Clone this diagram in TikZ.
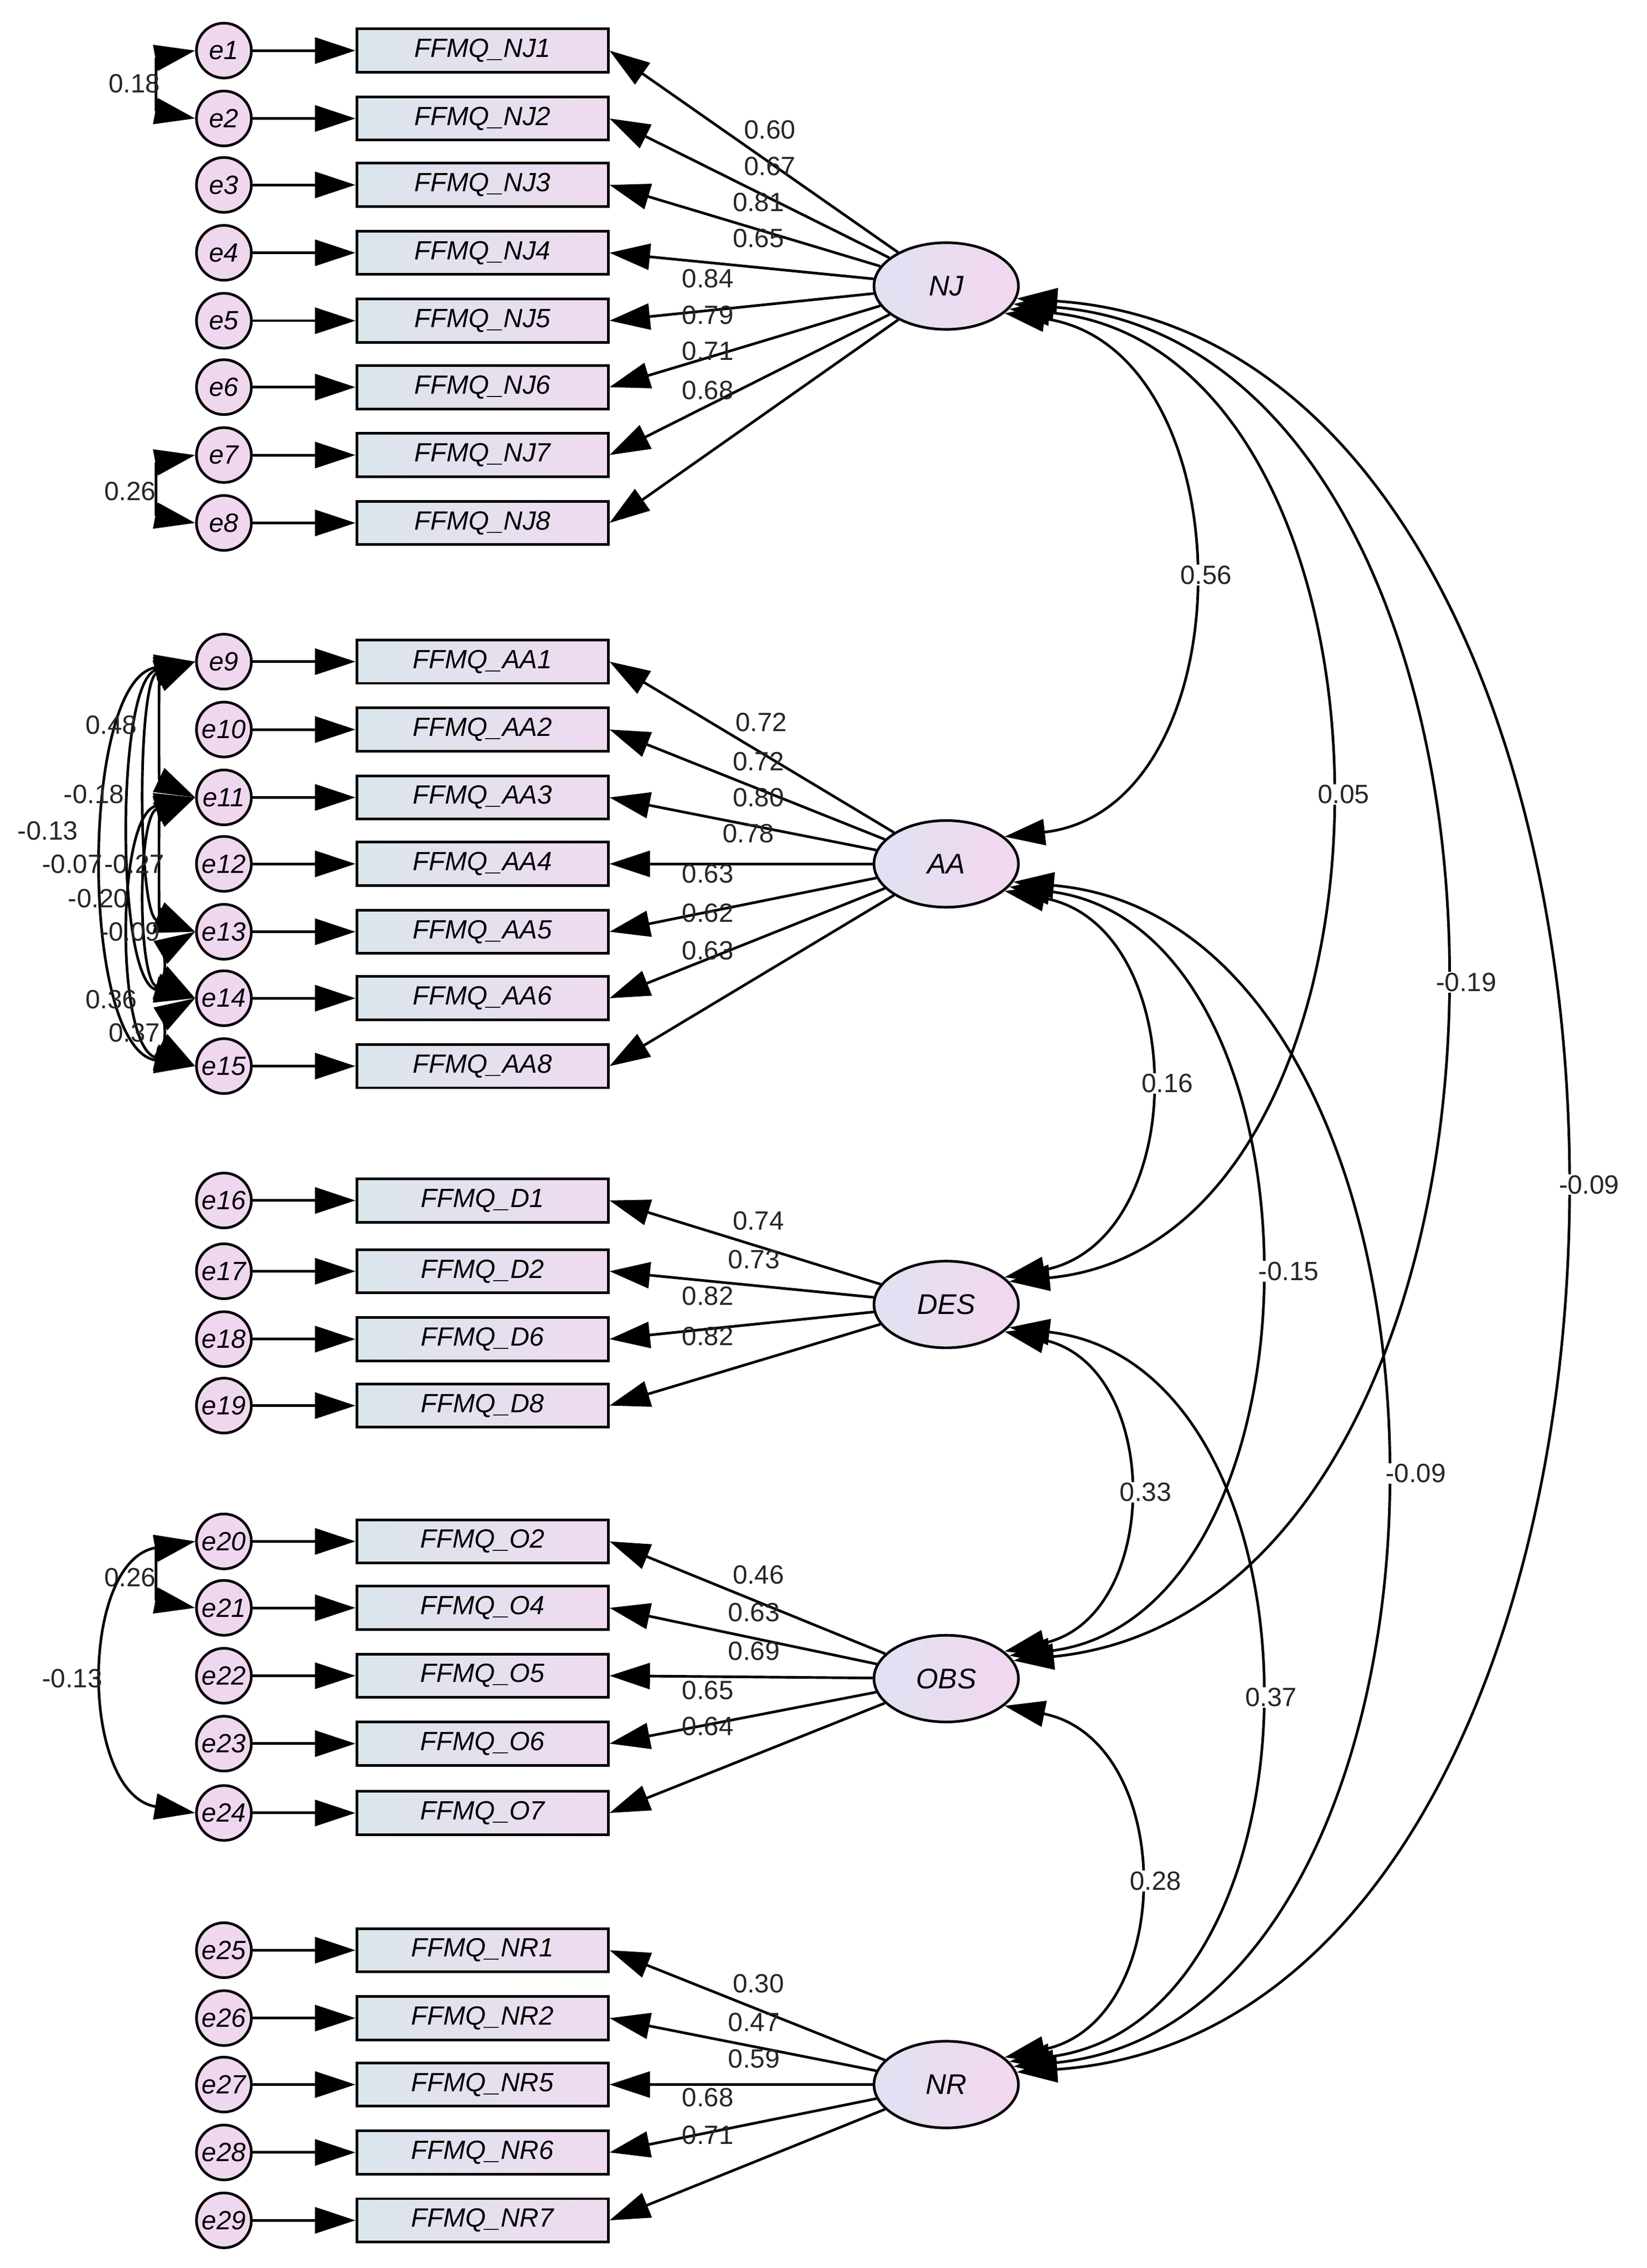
\documentclass[tikz,border=0pt]{standalone}
\usepackage{fontspec}
\setmainfont{Liberation Sans}
\usetikzlibrary{arrows.meta,shapes.geometric}
\begin{document}
\begin{tikzpicture}[x=0.05cm,y=-0.05cm,
  every node/.style={font=\fontsize{26}{30}\selectfont},
  err/.style={circle,draw,line width=2.6pt,minimum size=1.9cm,inner sep=0pt,fill=errc,font=\fontsize{26}{30}\selectfont\itshape},
  obs/.style={rectangle,draw,line width=2.6pt,minimum width=8.7cm,minimum height=1.5cm,inner sep=0pt,left color=boxl,right color=boxr,font=\fontsize{26}{30}\selectfont\itshape},
  lat/.style={ellipse,draw,line width=2.6pt,minimum width=5cm,minimum height=3cm,inner sep=0pt,left color=latl,right color=latr,font=\fontsize{28}{32}\selectfont\itshape},
  arr/.style={line width=2.6pt,-{Triangle[length=1.4cm,width=0.9cm]}},
  dbl/.style={line width=2.6pt,{Triangle[length=1.4cm,width=0.9cm]}-{Triangle[length=1.4cm,width=0.9cm]}},
  lb/.style={inner sep=1pt,text=black!85}]
\definecolor{errc}{RGB}{240,215,240}
\definecolor{boxl}{RGB}{218,230,236}
\definecolor{boxr}{RGB}{240,218,240}
\definecolor{latl}{RGB}{225,225,242}
\definecolor{latr}{RGB}{242,215,240}
\useasboundingbox (0,0) rectangle (1140,1570);
% rows
\foreach \i/\y/\t in {1/35/NJ1,2/82/NJ2,3/128/NJ3,4/175/NJ4,5/222/NJ5,6/268/NJ6,7/315/NJ7,8/362/NJ8,
 9/458/AA1,10/505/AA2,11/552/AA3,12/598/AA4,13/645/AA5,14/691/AA6,15/738/AA8,
 16/831/D1,17/880/D2,18/927/D6,19/973/D8,
 20/1067/O2,21/1113/O4,22/1160/O5,23/1207/O6,24/1255/O7,
 25/1350/NR1,26/1397/NR2,27/1443/NR5,28/1490/NR6,29/1537/NR7}{
 \node[err] (e\i) at (155,\y) {e\i};
 \node[obs] (b\i) at (334,\y) {FFMQ\_\t};
 \draw[arr] (e\i) -- (b\i);
}
\node[lat] (NJ) at (655,198) {NJ};
\node[lat] (AA) at (655,598) {AA};
\node[lat] (DES) at (655,903) {DES};
\node[lat] (OBS) at (655,1162) {OBS};
\node[lat] (NR) at (655,1443) {NR};
% loadings
\foreach \i/\x/\y/\v in {1/533/90/0.60,2/533/115/0.67,3/525/140/0.81,4/525/165/0.65,5/490/193/0.84,6/490/218/0.79,7/490/243/0.71,8/490/270/0.68}{
 \draw[arr] (NJ) -- (b\i.east); \node[lb] at (\x,\y) {\v};}
\foreach \i/\x/\y/\v in {9/527/500/0.72,10/525/527/0.72,11/525/552/0.80,12/518/577/0.78,13/490/605/0.63,14/490/632/0.62,15/490/658/0.63}{
 \draw[arr] (AA) -- (b\i.east); \node[lb] at (\x,\y) {\v};}
\foreach \i/\x/\y/\v in {16/525/845/0.74,17/522/872/0.73,18/490/897/0.82,19/490/925/0.82}{
 \draw[arr] (DES) -- (b\i.east); \node[lb] at (\x,\y) {\v};}
\foreach \i/\x/\y/\v in {20/525/1090/0.46,21/522/1116/0.63,22/522/1143/0.69,23/490/1170/0.65,24/490/1195/0.64}{
 \draw[arr] (OBS) -- (b\i.east); \node[lb] at (\x,\y) {\v};}
\foreach \i/\x/\y/\v in {25/525/1373/0.30,26/522/1400/0.47,27/522/1425/0.59,28/490/1452/0.68,29/490/1478/0.71}{
 \draw[arr] (NR) -- (b\i.east); \node[lb] at (\x,\y) {\v};}
% factor covariances
\draw[dbl] (NJ.-25) .. controls (865,240) and (865,560) .. (AA.25);
\draw[dbl] (NJ.-20) .. controls (990,240) and (990,860) .. (DES.20);
\draw[dbl] (NJ.-15) .. controls (1095,240) and (1095,1110) .. (OBS.15);
\draw[dbl] (NJ.-10) .. controls (1205,240) and (1205,1400) .. (NR.10);
\draw[dbl] (AA.-25) .. controls (825,640) and (825,860) .. (DES.25);
\draw[dbl] (AA.-20) .. controls (925,640) and (925,1120) .. (OBS.20);
\draw[dbl] (AA.-15) .. controls (1040,640) and (1040,1400) .. (NR.15);
\draw[dbl] (DES.-25) .. controls (805,945) and (805,1120) .. (OBS.25);
\draw[dbl] (DES.-20) .. controls (925,945) and (925,1400) .. (NR.20);
\draw[dbl] (OBS.-25) .. controls (815,1205) and (815,1400) .. (NR.25);
\node[lb,fill=white] at (835,398) {0.56};
\node[lb,fill=white] at (930,550) {0.05};
\node[lb,fill=white] at (1015,680) {-0.19};
\node[lb,fill=white] at (1100,820) {-0.09};
\node[lb,fill=white] at (808,750) {0.16};
\node[lb,fill=white] at (892,880) {-0.15};
\node[lb,fill=white] at (980,1020) {-0.09};
\node[lb,fill=white] at (793,1033) {0.33};
\node[lb,fill=white] at (880,1175) {0.37};
\node[lb,fill=white] at (800,1302) {0.28};
% error covariances
\draw[dbl] (e1.west) .. controls (108,40) and (108,77) .. (e2.west);
\node[lb] at (93,58) {0.18};
\draw[dbl] (e7.west) .. controls (108,320) and (108,357) .. (e8.west);
\node[lb] at (90,340) {0.26};
\draw[dbl] (e20.west) .. controls (108,1072) and (108,1108) .. (e21.west);
\node[lb] at (90,1092) {0.26};
\draw[dbl] (e20.west) .. controls (55,1080) and (55,1242) .. (e24.west);
\node[lb] at (50,1162) {-0.13};
% AA error covariances
\draw[dbl] (e9.west) .. controls (80,470) and (80,679) .. (e14.west);
\draw[dbl] (e9.west) .. controls (55,470) and (55,726) .. (e15.west);
\draw[dbl] (e9.west) .. controls (110,470) and (110,540) .. (e11.west);
\draw[dbl] (e9.west) .. controls (95,470) and (95,633) .. (e13.west);
\draw[dbl] (e11.west) .. controls (110,564) and (110,633) .. (e13.west);
\draw[dbl] (e11.west) .. controls (95,564) and (95,679) .. (e14.west);
\draw[dbl] (e11.west) .. controls (80,564) and (80,726) .. (e15.west);
\draw[dbl] (e13.west) .. controls (115,657) and (115,679) .. (e14.west);
\draw[dbl] (e14.west) .. controls (115,703) and (115,726) .. (e15.west);
\node[lb] at (77,502) {0.48};
\node[lb] at (65,550) {-0.18};
\node[lb] at (33,575) {-0.13};
\node[lb] at (50,598) {-0.07};
\node[lb] at (93,598) {-0.27};
\node[lb] at (68,622) {-0.20};
\node[lb] at (90,645) {-0.09};
\node[lb] at (77,692) {0.36};
\node[lb] at (93,715) {0.37};
\end{tikzpicture}
\end{document}
